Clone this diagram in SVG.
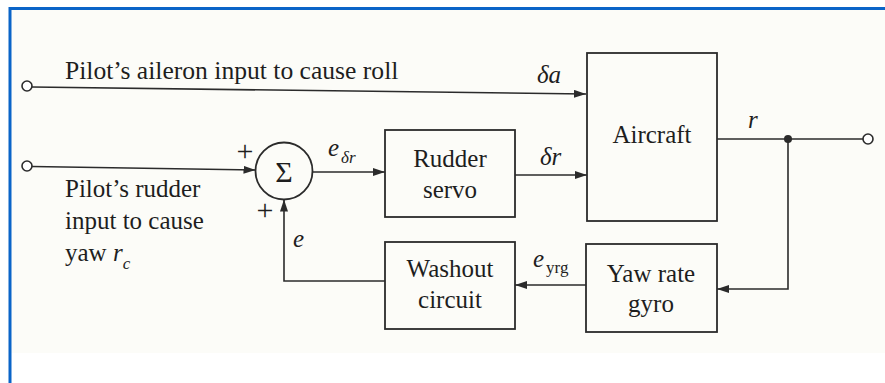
<svg xmlns="http://www.w3.org/2000/svg" width="885" height="383" viewBox="0 0 885 383">
<defs>
<marker id="arr" viewBox="0 0 12 8" refX="12" refY="4" markerWidth="12" markerHeight="8" markerUnits="userSpaceOnUse" orient="auto"><path d="M0,0 L12,4 L0,8 z" fill="#2b2b2b"/></marker>
</defs>
<style>
.ln{stroke:#2b2b2b;stroke-width:1.6;fill:none}
.box{fill:none;stroke:#2b2b2b;stroke-width:1.8}
.t{font-family:"Liberation Serif","Times New Roman",serif;font-size:25px;fill:#1e1e1e}
.i{font-style:italic}
.c{text-anchor:middle}
.sub{font-size:17px}
.term{fill:#fff;stroke:#2b2b2b;stroke-width:1.6}
</style>
<rect width="885" height="383" fill="#ffffff"/>
<rect x="11" y="10" width="874" height="343" fill="#fcfcf8"/>
<path d="M10 383 V8.5 H885" stroke="#0a64c8" stroke-width="3" fill="none"/>

<g id="connectors">
<path class="ln" d="M32,87 L586,94" marker-end="url(#arr)"/>
<path class="ln" d="M32,166.5 L255.5,170" marker-end="url(#arr)"/>
<path class="ln" d="M313,172 L385,172" marker-end="url(#arr)"/>
<path class="ln" d="M515,175 L587,175" marker-end="url(#arr)"/>
<path class="ln" d="M717,139 L863,139"/>
<path class="ln" d="M788,139 V289 H717" marker-end="url(#arr)"/>
<path class="ln" d="M586,285 H515" marker-end="url(#arr)"/>
<path class="ln" d="M385,281 H284 V199.5" marker-end="url(#arr)"/>
<circle cx="788" cy="139" r="4" fill="#2b2b2b"/>
<text class="t i" x="537" y="83">δa</text>
<text class="t i" x="540" y="165">δr</text>
<text class="t i" x="748" y="128">r</text>
<text class="t" x="328" y="156"><tspan class="i">e</tspan><tspan class="i sub" dx="2" dy="7">δr</tspan></text>
<text class="t i" x="293" y="247">e</text>
<text class="t" x="533" y="267"><tspan class="i">e</tspan><tspan class="sub" dx="2" dy="6">yrg</tspan></text>
</g>

<g id="aileron-input">
<circle class="term" cx="27" cy="86" r="5"/>
<text class="t" x="65" y="79" style="font-size:25.6px">Pilot’s aileron input to cause roll</text>
</g>

<g id="rudder-input">
<circle class="term" cx="27" cy="166" r="5"/>
<text class="t" x="65" y="197">Pilot’s rudder</text>
<text class="t" x="65" y="229">input to cause</text>
<text class="t" x="65" y="261">yaw <tspan class="i">r</tspan><tspan class="i sub" dy="8">c</tspan></text>
</g>

<g id="summing-junction">
<circle cx="284" cy="171" r="28.5" fill="none" stroke="#2b2b2b" stroke-width="1.8"/>
<text class="t c" x="284" y="182" style="font-size:30px">Σ</text>
<text class="t c" x="245" y="161" style="font-size:30px">+</text>
<text class="t c" x="265" y="220" style="font-size:30px">+</text>
</g>

<g id="rudder-servo">
<rect class="box" x="385" y="130" width="130" height="87"/>
<text class="t c" x="450" y="167">Rudder</text>
<text class="t c" x="450" y="198">servo</text>
</g>

<g id="aircraft">
<rect class="box" x="587" y="53" width="130" height="168"/>
<text class="t c" x="652" y="143">Aircraft</text>
</g>

<g id="yaw-rate-gyro">
<rect class="box" x="586" y="244" width="131" height="88"/>
<text class="t c" x="651" y="282">Yaw rate</text>
<text class="t c" x="651" y="312">gyro</text>
</g>

<g id="washout-circuit">
<rect class="box" x="385" y="242" width="130" height="87"/>
<text class="t c" x="450" y="277">Washout</text>
<text class="t c" x="450" y="308">circuit</text>
</g>

<g id="output">
<circle class="term" cx="868" cy="139" r="5"/>
</g>
</svg>
